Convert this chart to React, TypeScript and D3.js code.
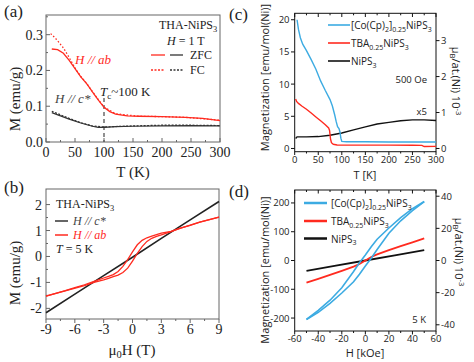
import React from "react";
import * as d3 from "d3";

type Pt = [number, number];

// (a) THA-NiPS3, M(T) at 1 T
const aAbZFC: Pt[] = [[10, 0.26], [20, 0.258], [30, 0.248], [40, 0.228], [50, 0.205], [60, 0.182], [70, 0.163], [75, 0.152], [80, 0.14], [90, 0.118], [100, 0.097], [110, 0.085], [120, 0.078], [140, 0.073], [160, 0.072], [200, 0.071], [240, 0.069], [270, 0.066], [300, 0.06]];
const aAbFC: Pt[] = [[8, 0.303], [15, 0.292], [20, 0.283], [30, 0.263], [40, 0.236], [50, 0.207], [60, 0.183], [70, 0.164], [80, 0.141], [90, 0.119], [100, 0.098], [120, 0.079], [160, 0.072], [200, 0.071], [240, 0.069], [300, 0.061]];
const aCZFC: Pt[] = [[10, 0.082], [25, 0.073], [40, 0.064], [60, 0.053], [80, 0.044], [90, 0.041], [100, 0.041], [120, 0.043], [150, 0.044], [200, 0.045], [250, 0.046], [300, 0.045]];
const aCFC: Pt[] = [[10, 0.086], [25, 0.076], [40, 0.066], [60, 0.054], [80, 0.045], [100, 0.042], [150, 0.045], [200, 0.047], [250, 0.047], [300, 0.046]];
const aXTicks = [0, 50, 100, 150, 200, 250, 300];
const aYTicks = [0, 0.1, 0.2, 0.3];

// (b) THA-NiPS3, M(H) at 5 K
const bC: Pt[] = [[-9, -2.17], [-6, -1.45], [-3, -0.74], [0, -0.03], [3, 0.7], [6, 1.41], [9, 2.12]];
const bAbUp: Pt[] = [[-9, -1.53], [-7, -1.33], [-5, -1.12], [-4, -1.0], [-3, -0.9], [-2.5, -0.84], [-2, -0.78], [-1.5, -0.72], [-1, -0.62], [-0.5, -0.45], [0, -0.18], [0.5, 0.12], [1, 0.38], [1.5, 0.58], [2, 0.7], [2.5, 0.77], [3, 0.83], [4, 0.96], [5, 1.09], [6, 1.2], [7, 1.32], [8, 1.42], [9, 1.52]];
const bAbDown: Pt[] = [[9, 1.52], [7, 1.32], [5, 1.09], [4, 0.97], [3, 0.9], [2.5, 0.84], [2, 0.78], [1.5, 0.72], [1, 0.62], [0.5, 0.45], [0, 0.18], [-0.5, -0.12], [-1, -0.38], [-1.5, -0.58], [-2, -0.7], [-2.5, -0.77], [-3, -0.83], [-4, -0.96], [-5, -1.09], [-6, -1.2], [-7, -1.32], [-8, -1.42], [-9, -1.53]];
const bXTicks = [-9, -6, -3, 0, 3, 6, 9];
const bYTicks = [-2, -1, 0, 1, 2];

// (c) M(T) at 500 Oe
const cCo: Pt[] = [[5, 20.0], [8, 18.5], [12, 17.2], [17, 16.2], [25, 15.2], [35, 13.8], [45, 12.3], [55, 10.5], [65, 9.0], [75, 7.6], [80, 6.6], [85, 5.2], [88, 4.2], [91, 3.4], [94, 3.1], [96, 2.6], [98, 1.6], [100, 1.1], [110, 1.05], [150, 1.05], [200, 1.0], [250, 1.0], [300, 1.0]];
const cTba: Pt[] = [[2, 7.7], [4, 7.3], [8, 7.0], [15, 6.6], [25, 6.1], [35, 5.5], [45, 4.9], [55, 4.3], [65, 3.7], [72, 3.2], [74, 2.8], [76, 1.5], [78, 0.9], [82, 0.65], [90, 0.55], [150, 0.52], [200, 0.52], [250, 0.5], [270, 0.48], [275, 0.3], [300, 0.32]];
const cNi: Pt[] = [[2, 1.55], [5, 1.8], [10, 1.8], [25, 1.8], [50, 1.85], [75, 2.05], [100, 2.4], [125, 2.9], [150, 3.35], [175, 3.8], [200, 4.05], [225, 4.3], [250, 4.45], [275, 4.45], [300, 4.35]];
const cXTicks = [0, 50, 100, 150, 200, 250, 300];
const cYTicks = [0, 5, 10, 15, 20];
const cRTicks = [0, 1, 2, 3];

// (d) M(H) at 5 K
const dCoUp: Pt[] = [[-50, -205], [-40, -180], [-30, -149], [-20, -113], [-10, -74], [-5, -48], [0, -19], [5, 8], [10, 38], [20, 95], [30, 138], [40, 173], [50, 205]];
const dCoDown: Pt[] = [[50, 205], [40, 180], [30, 149], [20, 113], [10, 74], [5, 48], [0, 19], [-5, -8], [-10, -38], [-20, -95], [-30, -138], [-40, -173], [-50, -205]];
const dTba: Pt[] = [[-50, -77], [-40, -64], [-30, -50], [-20, -36], [-10, -21], [-5, -12], [0, 0], [5, 12], [10, 21], [20, 36], [30, 50], [40, 63], [50, 77]];
const dNi: Pt[] = [[-50, -36], [-25, -18], [0, 0], [25, 18], [50, 36]];
const dXTicks = [-60, -40, -20, 0, 20, 40, 60];
const dYTicks = [-200, -100, 0, 100, 200];
const dRTicks = [-40, -20, 0, 20, 40];

const EMU_PER_MUB = 5.585; // emu/mol per 10^-3 muB

const RED = "#ff2a1f";
const BLUE = "#3cabe2";
const SERIF = "'Liberation Serif', serif";
const SANS = "'Open Sans', sans-serif";

const path = (x: any, y: any, d: Pt[]) =>
  d3.line<Pt>().x((p) => x(p[0])).y((p) => y(p[1]))(d) || "";

// segments: plain string, or [text, "sub" | "sup" | "i"]
type Seg = string | [string, "sub" | "sup" | "i"];
function Rich({ segs, shift = 3 }: { segs: Seg[]; shift?: number }) {
  let cur = 0;
  return (
    <>
      {segs.map((s, i) => {
        const [t, k] = typeof s === "string" ? [s, ""] : s;
        const target = k === "sub" ? shift : k === "sup" ? -shift - 1 : 0;
        const dy = target - cur;
        cur = target;
        return (
          <tspan
            key={i}
            dy={dy}
            fontSize={k === "sub" || k === "sup" ? "0.7em" : undefined}
            fontStyle={k === "i" ? "italic" : undefined}
          >
            {t}
          </tspan>
        );
      })}
    </>
  );
}

const coSegs: Seg[] = ["[Co(Cp)", ["2", "sub"], "]", ["0.25", "sub"], "NiPS", ["3", "sub"]];
const tbaSegs: Seg[] = ["TBA", ["0.25", "sub"], "NiPS", ["3", "sub"]];
const niSegs: Seg[] = ["NiPS", ["3", "sub"]];
const muSegs: Seg[] = ["μ", ["B", "sub"], "/at.(Ni) 10", ["-3", "sup"]];

function PanelA() {
  const x = d3.scaleLinear([0, 300], [46, 220]);
  const y = d3.scaleLinear([0, 0.355], [142, 15]);
  const minX = d3.range(25, 300, 50);
  const minY = [0.05, 0.15, 0.25, 0.35];
  return (
    <g fontFamily={SERIF} fill="#222">
      <rect x={46} y={15} width={174} height={127} fill="none" stroke="#666" strokeWidth={1} />
      {aXTicks.map((v) => (
        <g key={v}>
          <line x1={x(v)} x2={x(v)} y1={142} y2={138} stroke="#666" />
          <text x={x(v)} y={157} textAnchor="middle" fontSize={14}>{v}</text>
        </g>
      ))}
      {minX.map((v) => <line key={v} x1={x(v)} x2={x(v)} y1={142} y2={140} stroke="#666" />)}
      {aYTicks.map((v) => (
        <g key={v}>
          <line x1={46} x2={50} y1={y(v)} y2={y(v)} stroke="#666" />
          <text x={43} y={y(v) + 5} textAnchor="end" fontSize={14}>{v.toFixed(1)}</text>
        </g>
      ))}
      {minY.map((v) => <line key={v} x1={46} x2={48} y1={y(v)} y2={y(v)} stroke="#666" />)}
      <line x1={x(100)} x2={x(100)} y1={98} y2={142} stroke="#555" strokeWidth={1.3} strokeDasharray="4,3" />
      <path d={path(x, y, aCFC)} fill="none" stroke="#333" strokeWidth={1.2} strokeDasharray="2,1.5" />
      <path d={path(x, y, aCZFC)} fill="none" stroke="#333" strokeWidth={1.2} />
      <path d={path(x, y, aAbFC)} fill="none" stroke={RED} strokeWidth={1.3} strokeDasharray="1.5,2" />
      <path d={path(x, y, aAbZFC)} fill="none" stroke={RED} strokeWidth={1.3} />
      <text x={75} y={64} fontSize={13} fill={RED} fontStyle="italic">H // ab</text>
      <text x={55} y={103} fontSize={13} fill="#444" fontStyle="italic">H // c*</text>
      <text x={100} y={96} fontSize={13}>
        <Rich segs={[["T", "i"], ["c", "sub"], "~100 K"]} />
      </text>
      <text x={159} y={29} fontSize={12}><Rich segs={["THA-NiPS", ["3", "sub"]]} /></text>
      <text x={167} y={45} fontSize={12}><Rich segs={[["H", "i"], " = 1 T"]} /></text>
      <line x1={151} x2={165} y1={55} y2={55} stroke={RED} strokeWidth={1.3} />
      <line x1={170} x2={183} y1={55} y2={55} stroke="#333" strokeWidth={1.3} />
      <text x={190} y={59} fontSize={12}>ZFC</text>
      <line x1={151} x2={165} y1={70} y2={70} stroke={RED} strokeWidth={1.3} strokeDasharray="2,1.5" />
      <line x1={170} x2={183} y1={70} y2={70} stroke="#333" strokeWidth={1.3} strokeDasharray="2,1.5" />
      <text x={190} y={74} fontSize={12}>FC</text>
      <text x={133} y={177} textAnchor="middle" fontSize={15}>T (K)</text>
      <text transform="translate(20,99) rotate(-90)" textAnchor="middle" fontSize={15}>M (emu/g)</text>
      <text x={4} y={17} fontSize={17}>(a)</text>
    </g>
  );
}

function PanelB() {
  const x = d3.scaleLinear([-9, 9], [46, 219]);
  const y = d3.scaleLinear([-2.41, 2.6], [319, 189]);
  const minX = d3.range(-7.5, 9, 3);
  const minY = [-1.5, -0.5, 0.5, 1.5];
  return (
    <g fontFamily={SERIF} fill="#222">
      <rect x={46} y={189} width={173} height={130} fill="none" stroke="#666" strokeWidth={1} />
      {bXTicks.map((v) => (
        <g key={v}>
          <line x1={x(v)} x2={x(v)} y1={319} y2={323} stroke="#666" />
          <text x={x(v)} y={334} textAnchor="middle" fontSize={14}>{v}</text>
        </g>
      ))}
      {minX.map((v) => <line key={v} x1={x(v)} x2={x(v)} y1={319} y2={321} stroke="#666" />)}
      {bYTicks.map((v) => (
        <g key={v}>
          <line x1={46} x2={50} y1={y(v)} y2={y(v)} stroke="#666" />
          <text x={42} y={y(v) + 5} textAnchor="end" fontSize={14}>{v}</text>
        </g>
      ))}
      {minY.map((v) => <line key={v} x1={46} x2={48} y1={y(v)} y2={y(v)} stroke="#666" />)}
      <path d={path(x, y, bC)} fill="none" stroke="#222" strokeWidth={1.6} />
      <path d={path(x, y, bAbUp)} fill="none" stroke={RED} strokeWidth={1.3} />
      <path d={path(x, y, bAbDown)} fill="none" stroke={RED} strokeWidth={1.3} />
      <text x={56} y={208} fontSize={12}><Rich segs={["THA-NiPS", ["3", "sub"]]} /></text>
      <line x1={55} x2={68} y1={221} y2={221} stroke="#333" strokeWidth={1.5} />
      <text x={73} y={225} fontSize={12} fill="#444" fontStyle="italic">H // c*</text>
      <line x1={55} x2={68} y1={235} y2={235} stroke={RED} strokeWidth={1.5} />
      <text x={73} y={239} fontSize={12} fill={RED} fontStyle="italic">H // ab</text>
      <text x={56} y={253} fontSize={12}><Rich segs={[["T", "i"], " = 5 K"]} /></text>
      <text x={132} y={355} textAnchor="middle" fontSize={15}><Rich segs={["μ", ["0", "sub"], "H (T)"]} /></text>
      <text transform="translate(20,273) rotate(-90)" textAnchor="middle" fontSize={15}>M (emu/g)</text>
      <text x={4} y={193} fontSize={17}>(b)</text>
    </g>
  );
}

function PanelC() {
  const x = d3.scaleLinear([0, 300], [294.7, 436]);
  const y = d3.scaleLinear([-0.5, 21], [151.7, 13.3]);
  const yr = (v: number) => y(v * EMU_PER_MUB);
  const minX = d3.range(25, 300, 50);
  return (
    <g fontFamily={SANS} fill="#222">
      <rect x={294.7} y={13.3} width={141.3} height={138.4} fill="none" stroke="#111" strokeWidth={1} />
      {cXTicks.map((v) => (
        <g key={v}>
          <line x1={x(v)} x2={x(v)} y1={151.7} y2={155} stroke="#111" />
          <line x1={x(v)} x2={x(v)} y1={13.3} y2={17} stroke="#111" />
          <text x={x(v)} y={163} textAnchor="middle" fontSize={9.5}>{v}</text>
        </g>
      ))}
      {minX.map((v) => (
        <g key={v}>
          <line x1={x(v)} x2={x(v)} y1={151.7} y2={153.5} stroke="#111" />
          <line x1={x(v)} x2={x(v)} y1={13.3} y2={15.3} stroke="#111" />
        </g>
      ))}
      {cYTicks.map((v) => (
        <g key={v}>
          <line x1={291} x2={294.7} y1={y(v)} y2={y(v)} stroke="#111" />
          <text x={289.5} y={y(v) + 3.5} textAnchor="end" fontSize={9.5}>{v}</text>
        </g>
      ))}
      {cRTicks.map((v) => (
        <g key={v}>
          <line x1={436} x2={439.5} y1={yr(v)} y2={yr(v)} stroke="#111" />
          <text x={441} y={yr(v) + 3.5} fontSize={9.5}>{v}</text>
        </g>
      ))}
      <path d={path(x, y, cNi)} fill="none" stroke="#111" strokeWidth={1.4} />
      <path d={path(x, y, cTba)} fill="none" stroke={RED} strokeWidth={1.4} />
      <path d={path(x, y, cCo)} fill="none" stroke={BLUE} strokeWidth={1.4} />
      <line x1={328} x2={350} y1={25} y2={25} stroke={BLUE} strokeWidth={1.6} />
      <text x={351} y={29} fontSize={10}><Rich segs={coSegs} shift={2.5} /></text>
      <line x1={328} x2={350} y1={43} y2={43} stroke={RED} strokeWidth={1.6} />
      <text x={351} y={47} fontSize={10}><Rich segs={tbaSegs} shift={2.5} /></text>
      <line x1={328} x2={350} y1={61} y2={61} stroke="#111" strokeWidth={1.6} />
      <text x={351} y={65} fontSize={10}><Rich segs={niSegs} shift={2.5} /></text>
      <text x={427} y={83} textAnchor="end" fontSize={9.5}>500 Oe</text>
      <text x={427} y={115} textAnchor="end" fontSize={9.5}>x5</text>
      <text x={365} y={178.5} textAnchor="middle" fontSize={11}>T [K]</text>
      <text transform="translate(268.5,77.5) rotate(-90)" textAnchor="middle" fontSize={11}>Magnetization [emu/mol(Ni)]</text>
      <text transform="translate(452,81) rotate(90)" textAnchor="middle" fontSize={11}><Rich segs={muSegs} shift={2.5} /></text>
      <text x={229} y={20} fontFamily={SERIF} fontSize={17}>(c)</text>
    </g>
  );
}

function PanelD() {
  const x = d3.scaleLinear([-60, 60], [294.7, 436]);
  const y = d3.scaleLinear([-245, 245], [331, 190]);
  const yr = (v: number) => y(v * EMU_PER_MUB);
  const minX = d3.range(-50, 60, 20);
  return (
    <g fontFamily={SANS} fill="#222">
      <rect x={294.7} y={190} width={141.3} height={141} fill="none" stroke="#111" strokeWidth={1} />
      {dXTicks.map((v) => (
        <g key={v}>
          <line x1={x(v)} x2={x(v)} y1={331} y2={334.5} stroke="#111" />
          <line x1={x(v)} x2={x(v)} y1={190} y2={193.5} stroke="#111" />
          <text x={x(v)} y={342} textAnchor="middle" fontSize={9.5}>{v}</text>
        </g>
      ))}
      {minX.map((v) => (
        <g key={v}>
          <line x1={x(v)} x2={x(v)} y1={331} y2={333} stroke="#111" />
          <line x1={x(v)} x2={x(v)} y1={190} y2={192} stroke="#111" />
        </g>
      ))}
      {dYTicks.map((v) => (
        <g key={v}>
          <line x1={291} x2={294.7} y1={y(v)} y2={y(v)} stroke="#111" />
          <text x={289.5} y={y(v) + 3.5} textAnchor="end" fontSize={9.5}>{v}</text>
        </g>
      ))}
      {dRTicks.map((v) => (
        <g key={v}>
          <line x1={436} x2={439.5} y1={yr(v)} y2={yr(v)} stroke="#111" />
          <text x={441} y={yr(v) + 3.5} fontSize={9.5}>{v}</text>
        </g>
      ))}
      <path d={path(x, y, dNi)} fill="none" stroke="#111" strokeWidth={1.8} />
      <path d={path(x, y, dTba)} fill="none" stroke={RED} strokeWidth={1.8} />
      <path d={path(x, y, dCoUp)} fill="none" stroke={BLUE} strokeWidth={1.6} />
      <path d={path(x, y, dCoDown)} fill="none" stroke={BLUE} strokeWidth={1.6} />
      <line x1={304} x2={327} y1={203} y2={203} stroke={BLUE} strokeWidth={2.5} />
      <text x={331} y={207} fontSize={10}><Rich segs={coSegs} shift={2.5} /></text>
      <line x1={304} x2={327} y1={221} y2={221} stroke={RED} strokeWidth={2.5} />
      <text x={331} y={225} fontSize={10}><Rich segs={tbaSegs} shift={2.5} /></text>
      <line x1={304} x2={327} y1={238.5} y2={238.5} stroke="#111" strokeWidth={2.5} />
      <text x={331} y={242.5} fontSize={10}><Rich segs={niSegs} shift={2.5} /></text>
      <text x={426} y={323} textAnchor="end" fontSize={9.5}>5 K</text>
      <text x={365} y={357} textAnchor="middle" fontSize={11}>H [kOe]</text>
      <text transform="translate(268.5,270) rotate(-90)" textAnchor="middle" fontSize={11}>Magnetization [emu/mol(Ni)]</text>
      <text transform="translate(455,252) rotate(90)" textAnchor="middle" fontSize={11}><Rich segs={muSegs} shift={2.5} /></text>
      <text x={229} y={197} fontFamily={SERIF} fontSize={17}>(d)</text>
    </g>
  );
}

export default function App() {
  return (
    <svg
      width={474}
      height={362}
      viewBox="0 0 474 362"
      style={{ position: "absolute", left: 0, top: 0, background: "#fff" }}
    >
      <PanelA />
      <PanelB />
      <PanelC />
      <PanelD />
    </svg>
  );
}
